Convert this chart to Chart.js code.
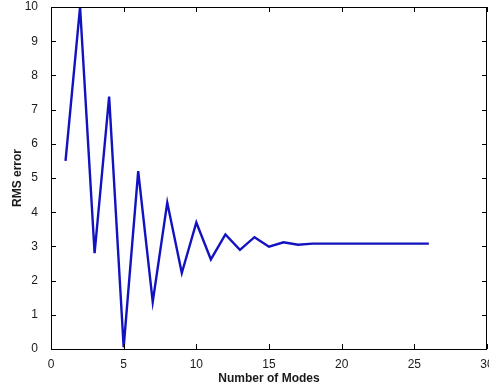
<!DOCTYPE html>
<html>
<head>
<meta charset="utf-8">
<script src="https://cdn.jsdelivr.net/npm/chart.js@4/dist/chart.umd.min.js"></script>
<style>
  html, body { margin: 0; padding: 0; background: #fff; }
  #wrap { width: 489px; height: 392px; }
</style>
</head>
<body>
<div id="wrap"><canvas id="myChart" width="489" height="392"></canvas></div>
<script>
// values
const modes = [1,2,3,4,5,6,7,8,9,10,11,12,13,14,15,16,17,18,19,20,21,22,23,24,25,26];
const rmsError = [5.5,10.0,2.8,7.38,0.05,5.2,1.38,4.28,2.22,3.7,2.62,3.35,2.9,3.27,2.99,3.12,3.05,3.08,3.08,3.08,3.08,3.08,3.08,3.08,3.08,3.08];
const xTicks = [0,5,10,15,20,25,30];
const yTicks = [0,1,2,3,4,5,6,7,8,9,10];

const points = modes.map((m, i) => ({x: m, y: rmsError[i]}));
const lineBlue = '#1212c0';
const textColor = '#1a1a1a';

// box around the plot with short ticks pointing inwards (matlab style)
const frame = {
  id: 'frame',
  afterDraw(chart) {
    const c = chart.ctx;
    const a = chart.chartArea;
    const xs = chart.scales.x, ys = chart.scales.y;
    c.save();
    c.strokeStyle = '#000';
    c.lineWidth = 1;
    c.strokeRect(a.left + 0.5, a.top + 0.5, a.right - a.left - 1, a.bottom - a.top);
    c.beginPath();
    xTicks.forEach(t => {
      const px = Math.round(xs.getPixelForValue(t)) + 0.5;
      c.moveTo(px, a.bottom); c.lineTo(px, a.bottom - 5);
      c.moveTo(px, a.top); c.lineTo(px, a.top + 5);
    });
    yTicks.forEach(t => {
      const py = Math.round(ys.getPixelForValue(t)) + 0.5;
      c.moveTo(a.left, py); c.lineTo(a.left + 5, py);
      c.moveTo(a.right, py); c.lineTo(a.right - 5, py);
    });
    c.stroke();
    c.restore();
  }
};

const ctx = document.getElementById('myChart');
const myChart = new Chart(ctx, {
  type: 'line',
  data: {
    datasets: [{
      data: points,
      borderColor: lineBlue,
      borderWidth: 2.4,
      pointRadius: 0,
      tension: 0,
      fill: false
    }]
  },
  options: {
    responsive: false,
    animation: false,
    layout: { padding: { top: 7, right: 2, left: 0, bottom: 0 } },
    scales: {
      x: {
        type: 'linear',
        min: 0, max: 30,
        afterBuildTicks: (s) => { s.ticks = xTicks.map(v => ({value: v})); },
        afterFit: (s) => { s.paddingLeft = 0; s.paddingRight = 0; s.height = 43; },
        grid: { display: false },
        border: { display: false },
        ticks: {
          color: textColor,
          padding: 0,
          maxRotation: 0,
          font: { family: 'Liberation Sans', size: 12 }
        },
        title: {
          display: true,
          text: 'Number of Modes',
          color: textColor,
          padding: { top: 0, bottom: 6 },
          font: { family: 'Liberation Sans', size: 12, weight: 'bold' }
        }
      },
      y: {
        min: 0, max: 10,
        afterBuildTicks: (s) => { s.ticks = yTicks.map(v => ({value: v})); },
        afterFit: (s) => { s.width = 51; s.paddingTop = 0; s.paddingBottom = 0; },
        grid: { display: false },
        border: { display: false },
        ticks: {
          color: textColor,
          padding: 5,
          font: { family: 'Liberation Sans', size: 12 }
        },
        title: {
          display: true,
          text: 'RMS error',
          color: textColor,
          padding: { top: 10, bottom: 0 },
          font: { family: 'Liberation Sans', size: 12, weight: 'bold' }
        }
      }
    },
    plugins: {
      legend: { display: false },
      tooltip: { enabled: false }
    }
  },
  plugins: [frame]
});
</script>
</body>
</html>
